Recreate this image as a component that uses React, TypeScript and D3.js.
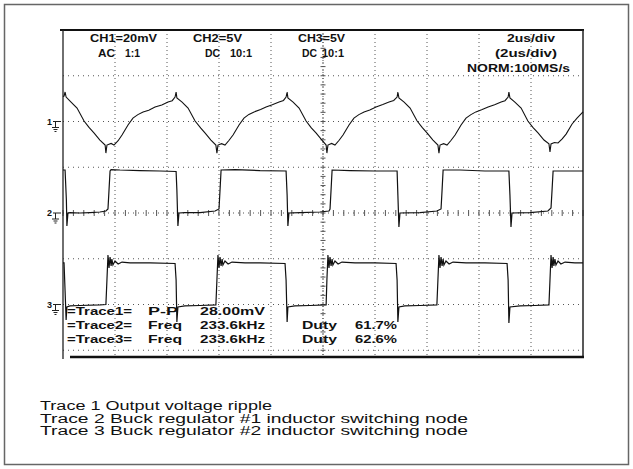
import React from "react";
import * as d3 from "d3";

// ---- data (time in µs, 2 µs/div; CH1 in mV, CH2/CH3 in V) ----
const timeDomain: [number, number] = [0, 20];
const ch1PerDiv = 20; // mV/div
const ch2PerDiv = 5; // V/div
const ch3PerDiv = 5; // V/div

const trace1: [number, number][] = [
  [0.0, 10.9], [0.04, 11.1], [0.08, 12.9], [0.12, 10.7], [0.31, 8.5], [0.54, 5.9], [0.81, 0.2], [1.0, -2.6], [1.19, -5.0], [1.42, -8.1], [1.62, -10.3], [1.65, -13.8], [1.69, -10.3],
  [1.85, -9.6], [1.96, -10.3], [2.12, -8.4], [2.27, -5.9], [2.50, -1.5], [2.69, 1.5], [2.88, 3.0], [3.08, 4.2], [3.3, 4.9], [3.54, 6.3], [3.8, 7.2], [4.04, 8.5], [4.2, 9.1], [4.31, 10.7], [4.35, 12.9], [4.38, 10.3],
  [4.58, 8.5], [4.81, 5.9], [5.08, 0.2], [5.3, -2.9], [5.46, -5.0], [5.69, -8.1], [5.88, -10.3], [5.92, -13.8], [5.96, -10.3],
  [6.1, -9.7], [6.23, -10.3], [6.38, -8.3], [6.54, -5.9], [6.77, -1.5], [6.96, 1.5], [7.15, 3.1], [7.35, 4.2], [7.6, 5.2], [7.81, 6.3], [8.05, 7.3], [8.31, 8.5], [8.48, 9.2], [8.58, 10.7], [8.62, 12.9], [8.65, 10.3],
  [8.85, 8.5], [9.08, 5.9], [9.35, 0.2], [9.55, -2.8], [9.73, -5.0], [9.96, -8.1], [10.12, -10.3], [10.15, -13.8], [10.19, -10.3],
  [10.33, -9.6], [10.46, -10.3], [10.62, -8.2], [10.77, -5.9], [11.0, -1.5], [11.19, 1.5], [11.38, 3.0], [11.58, 4.2], [11.8, 5.0], [12.04, 6.3], [12.3, 7.4], [12.54, 8.5], [12.72, 9.2], [12.85, 10.7], [12.88, 12.9], [12.92, 10.3],
  [13.12, 8.5], [13.35, 5.9], [13.62, 0.2], [13.82, -2.7], [14.0, -5.0], [14.23, -8.1], [14.42, -10.3], [14.46, -13.8], [14.5, -10.3],
  [14.64, -9.7], [14.77, -10.3], [14.92, -8.3], [15.08, -5.9], [15.31, -1.5], [15.5, 1.5], [15.69, 3.0], [15.88, 4.2], [16.1, 5.1], [16.35, 6.3], [16.6, 7.3], [16.85, 8.5], [17.0, 9.1], [17.12, 10.7], [17.15, 12.9], [17.19, 10.3],
  [17.38, 8.5], [17.62, 5.9], [17.88, 0.2], [18.08, -2.7], [18.27, -5.0], [18.5, -8.1], [18.69, -9.8], [18.73, -13.3], [18.77, -9.8],
  [18.9, -9.2], [19.04, -9.4], [19.2, -7.6], [19.35, -5.5], [19.58, -1.1], [19.77, 1.5], [20.0, 4.2],
];

const trace2: [number, number][] = [
  [0.0, 4.70], [0.08, 4.70], [0.13, 1.42], [0.15, -1.42], [0.19, 0], [0.27, 0.05], [0.65, 0], [1.04, 0.05], [1.42, 0.11], [1.65, 0.22], [1.73, 0.44],
  [1.77, 2.51], [1.81, 4.59], [1.85, 4.75], [2.19, 4.70], [2.96, 4.64], [3.73, 4.59], [4.35, 4.54],
  [4.38, 2.51], [4.42, -1.42], [4.46, 0], [4.69, 0.05], [5.27, 0.05], [5.85, 0.22], [6.0, 0.44],
  [6.04, 2.51], [6.08, 4.70], [6.62, 4.75], [7.58, 4.64], [8.58, 4.59],
  [8.62, 1.97], [8.65, -1.42], [8.69, 0], [9.12, 0.05], [9.88, 0.11], [10.23, 0.22], [10.27, 0.44],
  [10.31, 2.51], [10.35, 4.70], [11.04, 4.64], [12.0, 4.59], [12.85, 4.59],
  [12.88, 1.97], [12.92, -1.53], [12.96, 0], [13.73, 0.05], [14.38, 0.22], [14.54, 0.44],
  [14.58, 2.51], [14.62, 4.70], [15.27, 4.70], [16.23, 4.59], [17.15, 4.59],
  [17.19, 1.97], [17.23, -1.53], [17.27, 0], [17.96, 0.05], [18.65, 0.22], [18.77, 0.55],
  [18.81, 2.51], [18.85, 4.59], [19.5, 4.59], [20.0, 4.59],
];

const trace3: [number, number][] = [
  [0.0, 4.54], [0.04, 4.54], [0.08, 1.5], [0.12, -1.7], [0.15, -0.27], [0.27, -0.16], [0.65, -0.11], [1.42, -0.05], [1.65, 0],
  [1.69, 2.68], [1.73, 5.41], [1.77, 3.99], [1.81, 5.19], [1.85, 4.21], [1.88, 4.97], [1.92, 4.32], [2.0, 4.75], [2.12, 4.43], [2.27, 4.64], [2.58, 4.54], [3.35, 4.54], [4.31, 4.48],
  [4.35, 2.68], [4.38, -1.91], [4.42, -0.27], [4.69, -0.16], [5.27, -0.11], [5.88, -0.05],
  [5.92, 2.68], [5.96, 5.41], [6.0, 3.99], [6.04, 5.19], [6.08, 4.21], [6.12, 4.97], [6.15, 4.32], [6.23, 4.75], [6.35, 4.43], [6.5, 4.64], [7.0, 4.54], [7.58, 4.54], [8.54, 4.48],
  [8.58, 2.68], [8.62, -1.91], [8.65, -0.27], [8.92, -0.16], [9.5, -0.11], [10.12, -0.05],
  [10.15, 2.68], [10.19, 5.41], [10.23, 3.99], [10.27, 5.19], [10.31, 4.21], [10.35, 4.97], [10.38, 4.32], [10.46, 4.75], [10.58, 4.43], [10.73, 4.64], [11.23, 4.54], [12.0, 4.54], [12.81, 4.48],
  [12.85, 2.68], [12.88, -1.91], [12.92, -0.27], [13.15, -0.16], [13.73, -0.11], [14.38, -0.05],
  [14.42, 2.68], [14.46, 5.41], [14.5, 3.99], [14.54, 5.19], [14.58, 4.21], [14.62, 4.97], [14.65, 4.32], [14.73, 4.75], [14.85, 4.43], [15.0, 4.64], [15.5, 4.54], [16.23, 4.54], [17.08, 4.48],
  [17.12, 2.68], [17.15, -2.02], [17.19, -0.27], [17.58, -0.16], [18.15, -0.11], [18.69, -0.05],
  [18.73, 2.68], [18.77, 5.41], [18.81, 3.99], [18.85, 5.19], [18.88, 4.21], [18.92, 4.97], [18.96, 4.32], [19.04, 4.75], [19.15, 4.43], [19.31, 4.64], [19.69, 4.54], [20.0, 4.54],
];

const headerChannels = ["CH1=20mV", "CH2=5V", "CH3=5V"];
const headerCoupling = ["AC", "DC", "DC"];
const headerProbe = ["1:1", "10:1", "10:1"];
const timebaseLines = ["2us/div", "(2us/div)", "NORM:100MS/s"];
const measureLabels = ["=Trace1=", "=Trace2=", "=Trace3="];
const measureKinds = ["P-P", "Freq", "Freq"];
const measureValues = ["28.00mV", "233.6kHz", "233.6kHz"];
const dutyLabels = ["", "Duty", "Duty"];
const dutyValues = ["", "61.7%", "62.6%"];
const groundLabels = ["1", "2", "3"];
const captions = [
  "Trace 1 Output voltage ripple",
  "Trace 2 Buck regulator #1 inductor switching node",
  "Trace 3 Buck regulator #2 inductor switching node",
];

export default function App() {
  const W = 633, H = 469;
  const left = 63, right = 583, top = 30;
  const divH = 45.75;
  const x = d3.scaleLinear().domain(timeDomain).range([left, right]);
  const div = d3.scaleLinear().domain([4, -4]).range([top, top + 8 * divH]);
  const y1 = d3.scaleLinear().domain([0, ch1PerDiv]).range([div(2), div(3)]);
  const y2 = d3.scaleLinear().domain([0, ch2PerDiv]).range([div(0), div(1)]);
  const y3 = d3.scaleLinear().domain([0, ch3PerDiv]).range([div(-2), div(-1)]);
  const screenBottom = 357;

  const l1 = d3.line<[number, number]>().x((d) => x(d[0])).y((d) => y1(d[1]));
  const l2 = d3.line<[number, number]>().x((d) => x(d[0])).y((d) => y2(d[1]));
  const l3 = d3.line<[number, number]>().x((d) => x(d[0])).y((d) => y3(d[1]));

  const vGrid = d3.range(2, 20, 2);
  const hGrid = [3, 2, 1, 0, -1, -2, -3];
  const cx = x(10);
  const cy = div(0);
  const hTicks = d3.range(0, 20.01, 0.4);
  const vTicks = d3.range(-4, 4.01, 0.2).filter((d) => div(d) <= screenBottom);

  const grounds = [y1(0), y2(0), y3(0)];
  const scopeFont = "'Liberation Sans', Arial, sans-serif";

  const chX = [90, 193, 298];
  const chW = [67, 49, 47];
  const cpX = [98, 205, 302];
  const cpW = [17, 15, 15];
  const prX = [125, 230, 322];
  const prW = [15, 22, 22];
  const tbX = [507, 495, 467];
  const tbW = [48, 62, 103];
  const tbY = [42, 57, 72];
  const mY = [315, 329, 343];
  const capW = [232, 428, 428];

  return (
    <svg width={W} height={H} style={{ position: "absolute", left: 0, top: 0, background: "#fff" }}>
      <rect x={0} y={0} width={W} height={H} fill="#fff" />
      <rect x={4.5} y={4.5} width={624} height={460} fill="none" stroke="#666" strokeWidth={1.5} />

      {/* grid */}
      {vGrid.map((t) => (
        <line key={"vg" + t} x1={x(t)} x2={x(t)} y1={top} y2={screenBottom} stroke="#555" strokeWidth={1} strokeDasharray="1 3" />
      ))}
      {hGrid.map((d) => (
        <line key={"hg" + d} x1={left} x2={right} y1={div(d)} y2={div(d)} stroke="#555" strokeWidth={1} strokeDasharray="1 4" />
      ))}
      <line x1={cx} x2={cx} y1={top} y2={screenBottom} stroke="#555" strokeWidth={1} strokeDasharray="1 2" />
      {hTicks.map((t) => (
        <line key={"ht" + t} x1={x(t)} x2={x(t)} y1={cy - 3} y2={cy + 3} stroke="#555" strokeWidth={1} />
      ))}
      {vTicks.map((d) => (
        <line key={"vt" + d} x1={cx - 2.5} x2={cx + 2.5} y1={div(d)} y2={div(d)} stroke="#555" strokeWidth={1} />
      ))}

      {/* screen frame */}
      <line x1={60} x2={right + 1} y1={top} y2={top} stroke="#111" strokeWidth={2} />
      <line x1={left} x2={left} y1={top} y2={screenBottom + 2} stroke="#222" strokeWidth={1.3} />
      <line x1={right} x2={right} y1={top} y2={screenBottom} stroke="#222" strokeWidth={1.5} />
      <line x1={70} x2={right + 1} y1={screenBottom} y2={screenBottom} stroke="#111" strokeWidth={2.5} />

      {/* traces */}
      <path d={l1(trace1) || ""} fill="none" stroke="#111" strokeWidth={1.1} />
      <path d={l2(trace2) || ""} fill="none" stroke="#111" strokeWidth={1.2} />
      <path d={l3(trace3) || ""} fill="none" stroke="#111" strokeWidth={1.2} />

      {/* ground markers */}
      {grounds.map((g, i) => (
        <g key={"gnd" + i}>
          <text x={47} y={g + 3} fontFamily={scopeFont} fontWeight="bold" fontSize={9} fill="#111">{groundLabels[i]}</text>
          <path d={`M53,${g} H61 M55.5,${g} V${g + 6} M52,${g + 6} H59 M53.5,${g + 8} H57.5 M54.5,${g + 10} H56.5`} stroke="#222" strokeWidth={1} fill="none" />
        </g>
      ))}

      {/* header texts */}
      <g fontFamily={scopeFont} fontWeight="bold" fontSize={11} fill="#111">
        {headerChannels.map((s, i) => (
          <text key={"ch" + i} x={chX[i]} y={42} textLength={chW[i]} lengthAdjust="spacingAndGlyphs">{s}</text>
        ))}
        {headerCoupling.map((s, i) => (
          <text key={"cp" + i} x={cpX[i]} y={57} textLength={cpW[i]} lengthAdjust="spacingAndGlyphs">{s}</text>
        ))}
        {headerProbe.map((s, i) => (
          <text key={"pr" + i} x={prX[i]} y={57} textLength={prW[i]} lengthAdjust="spacingAndGlyphs">{s}</text>
        ))}
        {timebaseLines.map((s, i) => (
          <text key={"tb" + i} x={tbX[i]} y={tbY[i]} textLength={tbW[i]} lengthAdjust="spacingAndGlyphs">{s}</text>
        ))}
        {measureLabels.map((s, i) => (
          <text key={"ml" + i} x={67} y={mY[i]} textLength={65} lengthAdjust="spacingAndGlyphs">{s}</text>
        ))}
        {measureKinds.map((s, i) => (
          <text key={"mk" + i} x={148} y={mY[i]} textLength={s.length === 3 ? 30 : 34} lengthAdjust="spacingAndGlyphs">{s}</text>
        ))}
        {measureValues.map((s, i) => (
          <text key={"mv" + i} x={200} y={mY[i]} textLength={65} lengthAdjust="spacingAndGlyphs">{s}</text>
        ))}
        {dutyLabels.map((s, i) =>
          s ? <text key={"dl" + i} x={302} y={mY[i]} textLength={35} lengthAdjust="spacingAndGlyphs">{s}</text> : null
        )}
        {dutyValues.map((s, i) =>
          s ? <text key={"dv" + i} x={355} y={mY[i]} textLength={42} lengthAdjust="spacingAndGlyphs">{s}</text> : null
        )}
      </g>

      {/* captions */}
      <g fontFamily="'Liberation Sans', Arial, Helvetica, sans-serif" fontSize={12.5} fill="#111">
        {captions.map((s, i) => (
          <text key={"cap" + i} x={40} y={410 + i * 12.5} textLength={capW[i]} lengthAdjust="spacingAndGlyphs">{s}</text>
        ))}
      </g>
    </svg>
  );
}
